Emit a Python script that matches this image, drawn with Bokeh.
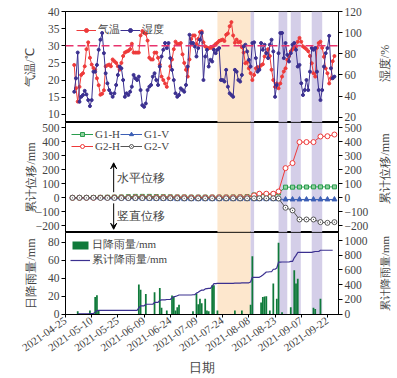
import math
import numpy as np
import pandas as pd
from bokeh.plotting import figure
from bokeh.layouts import column, row
from bokeh.models import (Range1d, LinearAxis, BoxAnnotation, Span, Legend, LegendItem,
                          FixedTicker, DatetimeTickFormatter, Arrow, VeeHead, Label)
from bokeh.embed import file_html
from bokeh.resources import INLINE

FONT = "Liberation Serif"

# ---------------- data ----------------
weather_start = "2021-04-30"
temperature = [
    24.4, 17.6, 13.7, 18, 21.5, 22, 24, 29, 31, 26.5,
    24.5, 23.5, 23, 20.5, 18.5, 15.7, 16, 17, 24, 24.3,
    24.5, 24, 26, 25.5, 25, 24, 23, 25, 27, 28,
    28.3, 28.5, 29, 30.6, 28, 28, 28, 28, 33, 34.3,
    33.8, 33.5, 31.5, 26.5, 26, 26, 28, 28, 26.5, 24.5,
    21, 20, 19, 18, 20.5, 24, 26, 29, 31.2, 30.5,
    30.5, 30.8, 27.5, 25, 23, 21, 26, 32, 33, 33,
    30.5, 32, 34, 34.2, 31, 29.8, 29.5, 29.3, 29.4, 29.4,
    30, 30.5, 30.9, 31.4, 31.6, 31.8, 31.4, 33.2, 33.6, 35.7,
    36.9, 33, 30.9, 31.8, 31, 31.2, 29.6, 28, 24.9, 25.2,
    23.4, 22, 20, 21.5, 23.4, 23.8, 23.6, 24.3, 24.6, 26.9,
    28, 29, 27, 23, 20, 18,
    19, 17.6, 19, 21, 22.5, 23.4, 25.9, 27, 28.4, 29, 29.4, 29.8, 31.2, 32.3,
    31.2, 29.8, 29.4, 29, 28.4, 27, 24.9, 22, 21,
    29.4, 30.8, 31.2, 29.4, 26.8, 23.4, 22, 19, 20.5, 25.5, 27,
]
humidity = [
    44.1, 56.8, 81.2, 34.6, 39.3, 41, 45, 41.6, 36.2, 30.5,
    36.2, 63.1, 63.1, 69.5, 83.8, 93.3, 99.7, 80.6, 61.6, 52.1,
    45.7, 42.6, 39.3, 42.6, 50.5, 60, 67.9, 66.3, 55.2, 39.3,
    42.6, 41, 44.1, 48.9, 60, 56.8, 55.2, 58.4, 45.7, 31.4,
    29.8, 33, 45.7, 48.9, 50.5, 58.4, 61.6, 55.2, 50.5, 67.9,
    77.4, 83.8, 90.2, 85.4, 90.2, 75.9, 64.8, 55.2, 42.6, 39.3,
    41, 47.3, 45.7, 44.1, 50.5, 67.9, 98, 90.2, 90.2, 87,
    77.4, 85.4, 93.3, 99.7,
    55.2, 77.4, 83.8, 67.9, 74.3, 72.7, 83.8, 80.6, 83.8, 85.4,
    55.2, 55.2, 53.7, 64.8, 48.9, 42.6, 41, 39.3, 64.8, 63.1,
    55.2, 53.7, 60, 87, 88.6, 82.2, 74.3, 67.9, 90.2, 90.8,
    75.9, 63.1, 64.8, 90.2, 83.8, 88.6, 80.6, 75.9, 88.6, 93.3,
    82.2, 39.3, 50.5, 80.6, 99.7, 99.7, 75.9, 90.2, 79, 72.7,
    80.6, 88.6, 90.2, 83.8, 67.9, 69.5, 52.1, 41, 45.7, 55.2,
    45.7, 63.1, 85.4, 83.8, 85.4, 63.1, 45.7, 36.2, 45.7, 67.9,
    80.6, 85.4, 97, 66.3, 56.8, 58.4,
]
temp_threshold = 30

monitor_dates = [
    "2021-04-29", "2021-05-03", "2021-05-07", "2021-05-11", "2021-05-15", "2021-05-19",
    "2021-05-23", "2021-05-27", "2021-05-31", "2021-06-04", "2021-06-08", "2021-06-12",
    "2021-06-16", "2021-06-20", "2021-06-24", "2021-06-28", "2021-07-02", "2021-07-06",
    "2021-07-10", "2021-07-14", "2021-07-18", "2021-07-22", "2021-07-26", "2021-07-30",
    "2021-08-03", "2021-08-07", "2021-08-11", "2021-08-14", "2021-08-18", "2021-08-22",
    "2021-08-25", "2021-08-29", "2021-09-02", "2021-09-06", "2021-09-10", "2021-09-14",
    "2021-09-18", "2021-09-22", "2021-09-26",
]
g1_h = [0, 0, 1, 2, 3, 4, 5, 6, 8, 10, 10, 10, 9, 8, 7, 6, 6, 5, 5, 5, 5, 5, 5, 6,
        6, 8, 20, 22, 24, 25, 35, 76, 76, 77, 77, 78, 78, 78, 78]
g1_v = [0, 0, 0, -1, -2, -3, -4, -5, -5, -6, -6, -7, -8, -8, -9, -10, -10, -10, -10, -10,
        -10, -10, -10, -10, -10, -10, -10, -10, -10, -10, -10, -12, -12, -12, -12, -12,
        -12, -12, -12]
g2_h = [0, 0, 0, 0, 1, 1, 2, 2, 2, 3, 3, 3, 3, 3, 3, 3, 3, 2, 2, 2, 3, 3, 3, 3,
        4, 4, 17, 29, 29, 29, 45, 212, 248, 398, 398, 398, 438, 440, 452]
g2_v = [0, 0, 0, 0, -1, -1, -1, -2, -2, -2, -2, -2, -3, -3, -3, -3, -4, -4, -4, -4,
        -4, -4, -4, -4, -4, -4, -4, -4, -4, -4, -5, -71, -90, -155, -155, -155, -174,
        -179, -174]

rain_dates = [
    "2021-05-02", "2021-05-09", "2021-05-12", "2021-05-13", "2021-05-14", "2021-06-06",
    "2021-06-07", "2021-06-10", "2021-06-15", "2021-06-18", "2021-06-19", "2021-06-22",
    "2021-06-25", "2021-06-26", "2021-06-27", "2021-06-28", "2021-06-29", "2021-07-07",
    "2021-07-09", "2021-07-10", "2021-07-11", "2021-07-12", "2021-07-14", "2021-07-15",
    "2021-07-16", "2021-07-18", "2021-07-19", "2021-07-21", "2021-07-31", "2021-08-04",
    "2021-08-09", "2021-08-10", "2021-08-15", "2021-08-16", "2021-08-17", "2021-08-18",
    "2021-08-20", "2021-08-22", "2021-08-24", "2021-08-25", "2021-08-27", "2021-09-01",
    "2021-09-03", "2021-09-04", "2021-09-05", "2021-09-14", "2021-09-15", "2021-09-18",
]
rain_mm = [
    3, 4, 19, 21, 4, 33,
    27, 22.5, 24.4, 29, 7, 4,
    20.6, 19, 4, 7.5, 10.5, 3,
    23, 11, 17, 12, 17, 4,
    3, 32, 32, 4, 4, 4,
    10.5, 64.6, 13, 19, 19.5, 20,
    4, 34, 17, 79.6, 2, 7.5,
    49, 34, 39.4, 7, 5.6, 17,
]
rain_end = "2021-09-25"

x_tick_dates = ["2021-04-25", "2021-05-10", "2021-05-25", "2021-06-09", "2021-06-24",
                "2021-07-09", "2021-07-24", "2021-08-08", "2021-08-23", "2021-09-07",
                "2021-09-22"]
x_start, x_end = "2021-04-25", "2021-09-28 08:00"
orange_band = ("2021-07-21", "2021-08-09")
purple_bands = [("2021-08-09", "2021-08-11"), ("2021-08-25", "2021-08-30"),
                ("2021-09-01", "2021-09-06 18:00"), ("2021-09-13", "2021-09-19")]

# ---------------- helpers ----------------
def ms(s):
    return pd.Timestamp(s).value / 1e6

weather_x = pd.date_range(weather_start, periods=len(temperature), freq="D")
hum_x = pd.date_range(weather_start, periods=len(humidity), freq="D")
mon_x = pd.to_datetime(monitor_dates)
rain_x = pd.to_datetime(rain_dates)
daily = pd.Series(rain_mm, index=rain_x).reindex(
    pd.date_range(rain_dates[0], rain_end, freq="D"), fill_value=0)
cum_rain = daily.cumsum()

LAB_W = 26
W = 397 - LAB_W
BL, BR = 65, 33
xr = Range1d(ms(x_start), ms(x_end))


def style_axis(ax, label=None, standoff=0, size="11.5px"):
    ax.major_label_text_font = FONT
    ax.major_label_text_font_size = size
    ax.major_label_standoff = 2
    ax.major_tick_in = 0
    ax.major_tick_out = 4
    ax.minor_tick_in = 0
    ax.minor_tick_out = 0
    ax.axis_line_color = "black"
    ax.major_tick_line_color = "black"
    if label:
        ax.axis_label = label
        ax.axis_label_text_font = FONT
        ax.axis_label_text_font_size = "12px"
        ax.axis_label_text_font_style = "normal"
        ax.axis_label_standoff = standoff


def label_fig(height, text, frame_top, frame_bottom, y_center, size="12px"):
    """Narrow strip right of a panel holding its right-hand axis title.
    Its frame is aligned with the neighbouring panel's frame by the row layout,
    so its y range is expressed in page pixels of that frame."""
    f = figure(width=LAB_W, height=height, x_range=Range1d(0, LAB_W),
               y_range=Range1d(frame_bottom, frame_top), output_backend="svg",
               toolbar_location=None, min_border=0, x_axis_location=None,
               y_axis_location=None)
    f.title = None
    f.outline_line_color = None
    f.xgrid.visible = False
    f.ygrid.visible = False
    f.background_fill_color = "white"
    f.border_fill_color = "white"
    f.add_layout(Label(x=LAB_W / 2, y=y_center, text=text, angle=math.pi / 2,
                       text_align="center", text_baseline="middle", text_font=FONT,
                       text_font_size=size))
    return f


def make_fig(height, btop, bbottom, yr, xaxis=False):
    p = figure(width=W, height=height, x_range=xr, y_range=yr, x_axis_type="datetime",
               x_axis_location="below" if xaxis else None,
               output_backend="svg", toolbar_location=None,
               min_border=0, min_border_left=BL, min_border_right=BR,
               min_border_top=btop, min_border_bottom=bbottom)
    p.xgrid.visible = False
    p.ygrid.visible = False
    p.outline_line_color = "black"
    p.outline_line_alpha = 1
    p.outline_line_width = 1
    p.background_fill_color = "white"
    p.border_fill_color = "white"
    p.add_layout(BoxAnnotation(left=ms(orange_band[0]), right=ms(orange_band[1]),
                               fill_color="#fde3c4", fill_alpha=0.85, line_alpha=0,
                               level="underlay"))
    for a, b in purple_bands:
        p.add_layout(BoxAnnotation(left=ms(a), right=ms(b), fill_color="#cfc9e6",
                                   fill_alpha=0.9, line_alpha=0, level="underlay"))
    return p


def style_legend(lg, margin=4):
    lg.label_text_font = FONT
    lg.label_text_font_size = "11px"
    lg.border_line_alpha = 0
    lg.background_fill_alpha = 0
    lg.padding = 2
    lg.spacing = 0
    lg.label_standoff = 2
    lg.glyph_height = 10
    lg.label_height = 10
    lg.margin = margin


RED = "#ee3a3a"
BLUE = "#3b3090"

# ---------------- panel 1 ----------------
p1 = make_fig(122, 11, 0, Range1d(7.6, 40))
p1.extra_y_ranges = {"hum": Range1d(15, 120)}
p1.add_layout(Span(location=temp_threshold, dimension="width", line_color="#e8336d",
                   line_dash="8 4", line_width=1.5))
lt = p1.line(weather_x, temperature, line_color=RED, line_width=1)
st = p1.scatter(weather_x, temperature, marker="circle", size=3, color=RED)
lh = p1.line(hum_x, humidity, line_color=BLUE, line_width=1, y_range_name="hum")
sh = p1.scatter(hum_x, humidity, marker="circle", size=3, color=BLUE, y_range_name="hum")
style_axis(p1.yaxis[0], "气温/℃", standoff=8)
p1.yaxis[0].ticker = FixedTicker(ticks=[10, 15, 20, 25, 30, 35, 40])
ax = LinearAxis(y_range_name="hum")
style_axis(ax)
ax.ticker = FixedTicker(ticks=[20, 40, 60, 80, 100, 120])
p1.add_layout(ax, "right")
lg1 = Legend(items=[LegendItem(label="气温", renderers=[lt, st]),
                    LegendItem(label="湿度", renderers=[lh, sh])],
             location="top_left", orientation="horizontal", glyph_width=20)
style_legend(lg1, margin=9)
p1.add_layout(lg1)
l1 = label_fig(122, "湿度/%", 11, 122, 63)

# ---------------- panel 2 ----------------
p2 = make_fig(110, 0, 0, Range1d(-248, 538))
r_g1h = [p2.line(mon_x, g1_h, line_color="#2a9d4e", line_width=1),
         p2.scatter(mon_x, g1_h, marker="square", size=4, fill_color="#8fd19e",
                    line_color="#2a9d4e")]
r_g1v = [p2.line(mon_x, g1_v, line_color="#3c5fb5", line_width=1),
         p2.scatter(mon_x, g1_v, marker="triangle", size=5, color="#3c5fb5")]
r_g2h = [p2.line(mon_x, g2_h, line_color="#ee3a3a", line_width=1),
         p2.scatter(mon_x, g2_h, marker="circle", size=5, fill_color="white",
                    line_color="#ee3a3a")]
r_g2v = [p2.line(mon_x, g2_v, line_color="#555555", line_width=1),
         p2.scatter(mon_x, g2_v, marker="circle_dot", size=5, fill_color="white",
                    line_color="#555555")]
overrides = {-100: "−100", -200: "−200"}
disp_ticks = list(range(-200, 501, 100))
style_axis(p2.yaxis[0], "累计位移/mm", standoff=-5)
p2.yaxis[0].ticker = FixedTicker(ticks=disp_ticks)
p2.yaxis[0].major_label_overrides = overrides
ax2 = LinearAxis()
style_axis(ax2)
ax2.ticker = FixedTicker(ticks=disp_ticks)
ax2.major_label_overrides = overrides
p2.add_layout(ax2, "right")
lg2 = Legend(items=[LegendItem(label="G1-H", renderers=r_g1h),
                    LegendItem(label="G1-V", renderers=r_g1v),
                    LegendItem(label="G2-H", renderers=r_g2h),
                    LegendItem(label="G2-V", renderers=r_g2v)],
             location="top_left", orientation="horizontal", ncols=2, glyph_width=22)
style_legend(lg2)
p2.add_layout(lg2)
l2 = label_fig(110, "累计位移/mm", 122, 232, 168)

arrow_x = ms("2021-05-22 14:00")
text_x = ms("2021-05-24 12:00")
p2.add_layout(Arrow(x_start=arrow_x, y_start=40, x_end=arrow_x, y_end=250,
                    end=VeeHead(size=6, line_width=1), line_width=1, line_color="black"))
p2.add_layout(Arrow(x_start=arrow_x, y_start=-40, x_end=arrow_x, y_end=-225,
                    end=VeeHead(size=6, line_width=1), line_width=1, line_color="black"))
for txt, yv in [("水平位移", 140), ("竖直位移", -130)]:
    p2.add_layout(Label(x=text_x, y=yv, text=txt, text_font=FONT, text_font_size="11.5px",
                        text_baseline="middle", text_align="left"))

# ---------------- panel 3 ----------------
p3 = make_fig(146, 0, 64, Range1d(-0.5, 91), xaxis=True)
p3.extra_y_ranges = {"cum": Range1d(-6, 1110)}
rb = p3.vbar(x=rain_x, top=rain_mm, width=1.0 * 86400000, fill_color="#0f7a3a",
             line_alpha=0)
rl = p3.line(cum_rain.index, cum_rain.values, line_color=BLUE, line_width=1.2,
             y_range_name="cum")
style_axis(p3.yaxis[0], "日降雨量/mm", standoff=7)
p3.yaxis[0].ticker = FixedTicker(ticks=[0, 20, 40, 60, 80])
ax3 = LinearAxis(y_range_name="cum")
style_axis(ax3)
ax3.ticker = FixedTicker(ticks=[0, 200, 400, 600, 800, 1000])
p3.add_layout(ax3, "right")
xa = p3.xaxis[0]
style_axis(xa, "日期", standoff=2, size="11px")
xa.axis_label_text_font_size = "13px"
xa.ticker = FixedTicker(ticks=[ms(d) for d in x_tick_dates])
fmt = "%Y-%m-%d"
xa.formatter = DatetimeTickFormatter(microseconds=fmt, milliseconds=fmt, seconds=fmt,
                                     minsec=fmt, minutes=fmt, hourmin=fmt, hours=fmt,
                                     days=fmt, months=fmt, years=fmt)
xa.major_label_orientation = 0.61
xa.major_tick_out = 3
lg3 = Legend(items=[LegendItem(label="日降雨量/mm", renderers=[rb]),
                    LegendItem(label="累计降雨量/mm", renderers=[rl])],
             location="top_left", orientation="vertical", glyph_width=20)
style_legend(lg3, margin=3)
p3.add_layout(lg3)
l3 = label_fig(146, "累计降雨量/mm", 232, 314, 273, size="11px")

layout = column(row(p1, l1, spacing=0), row(p2, l2, spacing=0),
                row(p3, l3, spacing=0), spacing=0)
open("out.html", "w").write(file_html(layout, INLINE))
